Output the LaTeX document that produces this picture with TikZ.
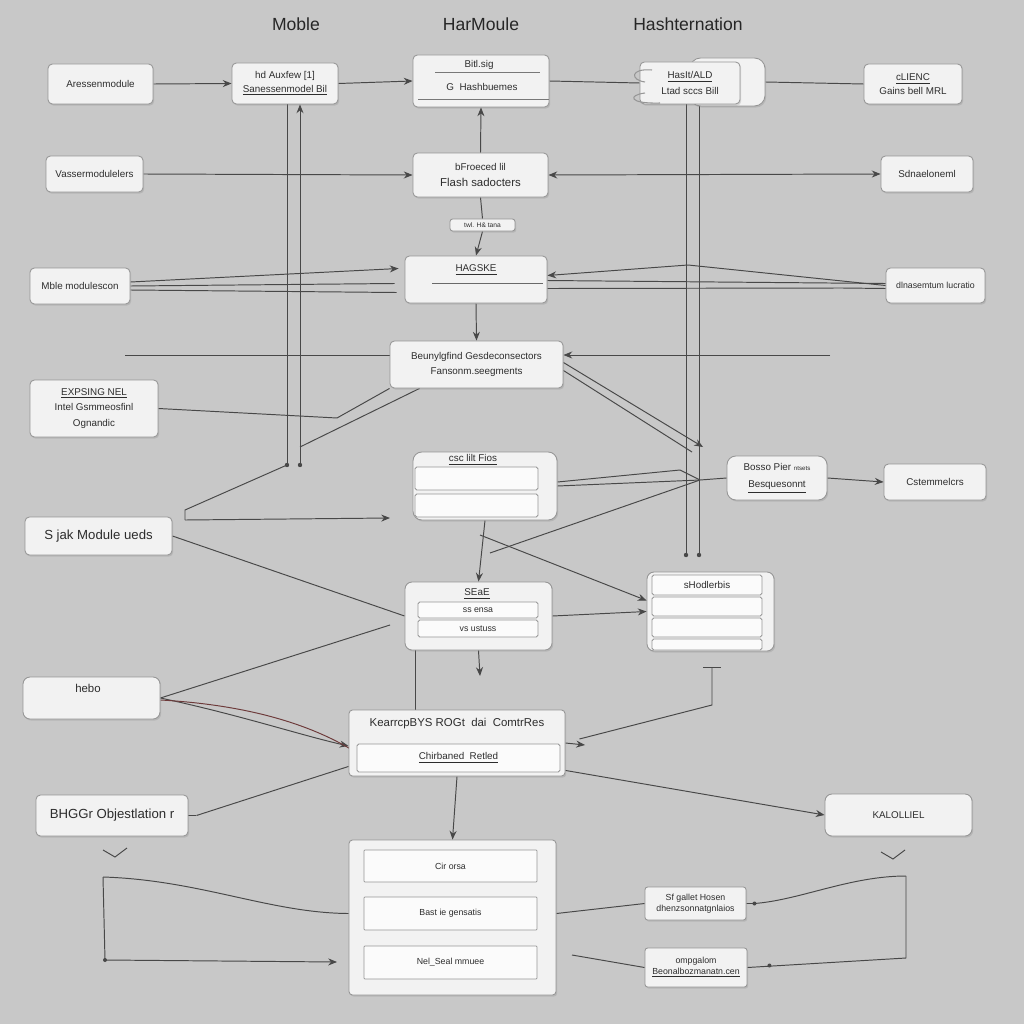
\documentclass[tikz,border=0pt]{standalone}
\usepackage{fontspec}
\setmainfont{Liberation Sans}
\usetikzlibrary{arrows.meta,shadows,calc}
\definecolor{bgc}{RGB}{200,200,200}
\definecolor{boxfill}{RGB}{242,242,242}
\definecolor{boxline}{RGB}{150,150,150}
\definecolor{wirec}{RGB}{72,72,72}
\definecolor{txt}{RGB}{45,45,45}
\pgfdeclarelayer{back}
\pgfdeclarelayer{wires}
\pgfsetlayers{back,wires,main}
\tikzset{
  bx/.style n args={4}{minimum width={(#3-#1)*0.02cm}, minimum height={(#4-#2)*0.02cm}, at={({(#1+#3)/2},{(#2+#4)/2})}},
  box/.style={draw=boxline, fill=boxfill, rounded corners=2.5pt, line width=0.5pt,
    drop shadow={shadow xshift=0.7pt, shadow yshift=-0.9pt, opacity=0.25},
    font=\fontsize{5.6}{7}\selectfont, align=center, inner sep=1pt, text=txt},
  barbox/.style={draw=boxline, fill=white!97!gray, rounded corners=1pt, line width=0.45pt,
    font=\fontsize{5}{6}\selectfont, inner sep=0.5pt, text=txt},
  ttl/.style={font=\fontsize{10}{12}\selectfont, text=black!85, inner sep=0pt},
  lab/.style={font=\fontsize{5.6}{7}\selectfont, text=txt, inner sep=0pt, align=center},
  wire/.style={draw=wirec, line width=0.55pt},
  tip/.style={-{Stealth[length=5pt,width=4pt]}},
  dotc/.style={fill=wirec, draw=none},
}
\begin{document}
\begin{tikzpicture}[x=0.02cm,y=-0.02cm]
\begin{pgfonlayer}{back}
\fill[bgc] (0,0) rectangle (1024,1024);
\end{pgfonlayer}
\useasboundingbox (0,0) rectangle (1024,1024);

% titles
\node[ttl] (t1) at (296,24) {Moble};
\node[ttl] (t2) at (481,24) {HarMoule};
\node[ttl] (t3) at (688,24) {Hashternation};

% row 1
\node[box, bx={48}{64}{153}{104}] (a1) {Aressenmodule};
\node[box, bx={232}{63}{338}{104}] (a2) {hd Auxfew [1]\\[1pt] \underline{Sanessenmodel Bil}};
\node[box, bx={413}{55}{549}{107}] (a3) {};
\node[lab] (a3t) at (479,65) {Bitl.sig};
\node[lab] (a3u) at (482,87) {G\ \ Hashbuemes};
\draw[boxline!80!black, line width=0.5pt] (435,72) -- (540,72) (418,99) -- (549,99);
\node[box, rounded corners=6pt, bx={690}{58}{765}{106}] (a4x) {};
\node[box, bx={640}{62}{740}{104}] (a4) {\underline{HasIt/ALD}\\[2pt] Ltad sccs Bill};
\draw[boxline, line width=0.6pt] (652,70) .. controls (630,68) and (630,80) .. (645,82);
\draw[boxline, line width=0.6pt] (645,93) .. controls (628,95) and (628,104) .. (660,103);
\node[box, bx={864}{64}{962}{104}] (a5) {\underline{cLIENC}\\[1pt] Gains bell MRL};

% row 2
\node[box, bx={46}{156}{143}{192}] (b1) {Vassermodulelers};
\node[box, bx={413}{153}{548}{197}] (b2) {bFroeced lil\\[2pt] {\fontsize{6.5}{7}\selectfont Flash sadocters}};
\node[box, bx={881}{156}{973}{192}] (b3) {Sdnaeloneml};
\node[box, rounded corners=1.5pt, font=\fontsize{3.8}{4}\selectfont, bx={450}{219}{515}{231}] (lbl) {twl. H\& tana};

% row 3
\node[box, bx={30}{268}{130}{304}] (c1) {Mble modulescon};
\node[box, bx={405}{256}{547}{303}] (c2) {};
\node[lab] (c2t) at (476,270) {\underline{HAGSKE}};
\draw[boxline!70!black, line width=0.5pt] (432,283) -- (543,283);
\node[box, font=\fontsize{5}{6}\selectfont, bx={886}{268}{985}{303}] (c3) {dlnasemtum lucratio};

% row 4
\node[box, bx={390}{341}{563}{388}] (d1) {Beunylgfind Gesdeconsectors\\[2pt] Fansonm.seegments};
\node[box, bx={30}{380}{158}{437}] (e1) {\underline{EXPSING NEL}\\[2pt] Intel Gsmmeosfinl\\[2pt] Ognandic};

% middle
\node[box, font=\fontsize{7.5}{9}\selectfont, bx={25}{517}{172}{555}] (f1) {S jak Module ueds};
\node[box, rounded corners=5pt, bx={413}{452}{557}{520}] (g1) {};
\node[lab] (g1t) at (473,460) {\underline{csc lilt Fios}};
\node[barbox, bx={415}{467}{538}{490}] (g1a) {};
\node[barbox, bx={415}{494}{538}{517}] (g1b) {};
\node[box, rounded corners=5pt, bx={727}{456}{827}{500}] (h1) {Bosso Pier {\fontsize{3.5}{4}\selectfont ntsets}\\[3pt] \underline{Besquesonnt}};
\node[box, bx={884}{464}{986}{500}] (h2) {Cstemmelcrs};

\node[box, rounded corners=4pt, bx={405}{582}{552}{650}] (i1) {};
\node[lab] (i1t) at (477,594) {\underline{SEaE}};
\node[barbox, bx={418}{602}{538}{618}] (i1a) {ss ensa};
\node[barbox, bx={418}{620}{538}{637}] (i1b) {vs ustuss};
\node[box, rounded corners=4pt, bx={647}{572}{774}{651}] (j1) {};
\node[barbox, font=\fontsize{5.6}{7}\selectfont, bx={652}{575}{762}{595}] (j1a) {sHodlerbis};
\node[barbox, bx={652}{597}{762}{616}] (j1b) {};
\node[barbox, bx={652}{618}{762}{637}] (j1c) {};
\node[barbox, bx={652}{639}{762}{650}] (j1d) {};

% lower
\node[box, rounded corners=4pt, bx={23}{677}{160}{719}] (k1) {};
\node[lab, font=\fontsize{6.5}{7}\selectfont] (k1t) at (88,688) {hebo};
\node[box, rounded corners=2pt, bx={349}{710}{565}{776}] (l1) {};
\node[lab, font=\fontsize{6.5}{7}\selectfont] (l1t) at (457,724) {KearrcpBYS ROGt\ \ dai\ \ ComtrRes};
\node[barbox, font=\fontsize{5.6}{7}\selectfont, bx={357}{744}{560}{772}] (l1a) {\underline{Chirbaned\ \ Retled}};
\node[box, font=\fontsize{7.5}{9}\selectfont, bx={36}{795}{188}{836}] (m1) {BHGGr Objestlation r};
\node[box, rounded corners=4pt, bx={825}{794}{972}{836}] (n1) {KALOLLIEL};

\node[box, rounded corners=2pt, bx={349}{840}{556}{995}] (o1) {};
\node[barbox, rounded corners=0.5pt, bx={364}{850}{537}{882}] (o1a) {Cir orsa};
\node[barbox, rounded corners=0.5pt, bx={364}{897}{537}{930}] (o1b) {Bast ie gensatis};
\node[barbox, rounded corners=0.5pt, bx={364}{946}{537}{979}] (o1c) {Nel\_Seal mmuee};
\node[box, rounded corners=1.5pt, font=\fontsize{5}{6}\selectfont, bx={645}{887}{746}{920}] (p1) {Sf gallet Hosen\\ dhenzsonnatgnlaios};
\node[box, rounded corners=1.5pt, font=\fontsize{5}{6}\selectfont, bx={645}{948}{747}{987}] (p2) {ompgalom\\ \underline{Beonalbozmanatn.cen}};

% coordinates
\coordinate (hl) at (125,355);
\coordinate (hr) at (830,355);
\coordinate (e1k) at (337,418);
\coordinate (d1d) at (300,447);
\coordinate (v1b) at (287,465);
\coordinate (v2b) at (300,465);
\coordinate (v3b) at (686,555);
\coordinate (v4b) at (699,555);
\coordinate (fk) at (185,510);
\coordinate (fk2) at (185,520);
\coordinate (fe) at (390,518);
\coordinate (dr1) at (703,447);
\coordinate (dr2) at (692,452);
\coordinate (gx) at (700,480);
\coordinate (gx2) at (680,470);
\coordinate (gd) at (490,553);
\coordinate (gd2) at (480,535);
\coordinate (cap) at (688,265);
\coordinate (cb) at (842,288);
\coordinate (ku) at (390,625);
\coordinate (iarr) at (480,676);
\coordinate (tb) at (712,667);
\coordinate (tbk) at (712,705);
\coordinate (lr) at (585,745);
\coordinate (lb1) at (103,877);
\coordinate (lb2) at (105,960);
\coordinate (lb3) at (337,962);
\coordinate (rb1) at (906,876);
\coordinate (rb2) at (906,958);
\coordinate (p2k) at (572,955);
\coordinate (chkL) at (115,857);
\coordinate (chkR) at (893,859);

\begin{pgfonlayer}{wires}
% row 1
\draw[wire,tip] (a1.east) -- (a2.west);
\draw[wire,tip] (a2.east) -- (a3.west);
\draw[wire] (a3.east) -- (a4.west);
\draw[wire] (a4x.east) -- (a5.west);
% row 2
\draw[wire,tip] (b1.east) -- (b2.west);
\draw[wire,{Stealth[length=5pt,width=4pt]}-{Stealth[length=5pt,width=4pt]}] (b2.east) -- (b3.west);
\draw[wire,tip] (b2.north) -- (a3.south);
\draw[wire] (b2.south) -- (lbl.north);
\draw[wire,tip] (lbl.south) -- (c2.north);
% row 3
\draw[wire,tip] ($(c1.east)+(0,-4)$) -- ($(c2.west)+(-6,-11)$);
\draw[wire] (c1.east) -- ($(c2.west)+(-10,4)$);
\draw[wire] ($(c1.east)+(0,4)$) -- ($(c2.west)+(-8,13)$);
\draw[wire,tip] (c3.west) -- (cap) -- ($(c2.east)+(0,-4)$);
\draw[wire] ($(c3.west)+(0,-2)$) -- ($(c2.east)+(0,1)$);
\draw[wire] ($(c3.west)+(0,3)$) -- (cb) -- ($(c2.east)+(0,9)$);
\draw[wire,tip] (c2.south) -- (d1.north);
% row 4
\draw[wire] (hl) -- (d1.west |- hl);
\draw[wire,tip] (hr) -- (d1.east |- hr);
\draw[wire] (e1.east) -- (e1k) -- (d1.south west);
\draw[wire] ($(d1.south west)+(30,0)$) -- (d1d);
% long verticals
\draw[wire] (v1b |- a2.south) -- (v1b);
\draw[wire,{Stealth[length=5pt,width=4pt]}-] (v2b |- a2.south) -- (v2b);
\draw[wire] (v3b |- a4.south) -- (v3b);
\draw[wire] (v4b |- a4.south) -- (v4b);
\fill[dotc] (v1b) circle[radius=2.2] (v2b) circle[radius=2.2] (v3b) circle[radius=2.2] (v4b) circle[radius=2.2];
\draw[wire] (v1b) -- (fk) -- (fk2);
\draw[wire,tip] (fk2) -- (fe);
\draw[wire,tip] ($(d1.east)+(0,-2)$) -- (dr1);
\draw[wire] ($(d1.east)+(0,6)$) -- (dr2);
% middle
\draw[wire] ($(g1.east)+(0,-4)$) -- (gx2) -- (gx);
\draw[wire] (g1.east) -- (gx) -- (h1.west);
\draw[wire] (gd) -- (gx);
\draw[wire,tip] (gd2) -- ($(j1.west)+(0,-11)$);
\draw[wire,tip] (h1.east) -- (h2.west);
\draw[wire,tip] (g1.south) -- (i1.north);
\draw[wire] (f1.east) -- (i1.west);
\draw[wire,tip] (i1.east) -- (j1.west);
\draw[wire,tip] (i1.south) -- (iarr);
\draw[wire] ($(i1.south west)+(11,0)$) -- ($(l1.north west)+(67,0)$);
% lower
\draw[wire] (k1.east) -- (ku);
\draw[wire,tip] (k1.east) .. controls (240,715) and (300,735) .. ($(l1.west)+(0,3)$);
\draw[wire, draw=wirec!80!red] ($(k1.east)+(0,2)$) .. controls (250,705) and (310,725) .. ($(l1.west)+(2,6)$);
\draw[wire] ($(m1.east)+(8,0)$) -- ($(l1.south west)+(0,-10)$);
\draw[wire] (m1.east) -- ++(8,0);
\draw[wire,{Bar[width=10pt]}-] (tb) -- (tbk) -- ($(l1.east)+(14,-4)$);
\draw[wire,tip] (l1.east) -- (lr);
\draw[wire,tip] ($(l1.south east)+(0,-6)$) -- (n1.west);
\draw[wire,tip] (l1.south) -- (o1.north);
\draw[wire] ($(chkL)+(-12,-7)$) -- (chkL) -- ($(chkL)+(12,-9)$);
\draw[wire] ($(chkR)+(-12,-7)$) -- (chkR) -- ($(chkR)+(12,-9)$);
\draw[wire] (lb1) -- (lb2);
\draw[wire,tip] (lb2) -- (lb3);
\draw[wire] (lb1) .. controls (200,880) and (270,913) .. (o1.west |- o1b.west);
\fill[dotc] (lb2) circle[radius=2];
\draw[wire] (o1.east |- o1b.east) -- (p1.west);
\draw[wire] (p2.west) -- (p2k);
\draw[wire] (rb1) -- (rb2) -- (p2.east);
\fill[dotc] ($(p2.east)+(22,-2)$) circle[radius=2];
\draw[wire] (rb1) .. controls (850,876) and (800,900) .. ($(p1.east)+(8,0)$) -- (p1.east);
\fill[dotc] ($(p1.east)+(8,0)$) circle[radius=2];
\end{pgfonlayer}
\end{tikzpicture}
\end{document}
